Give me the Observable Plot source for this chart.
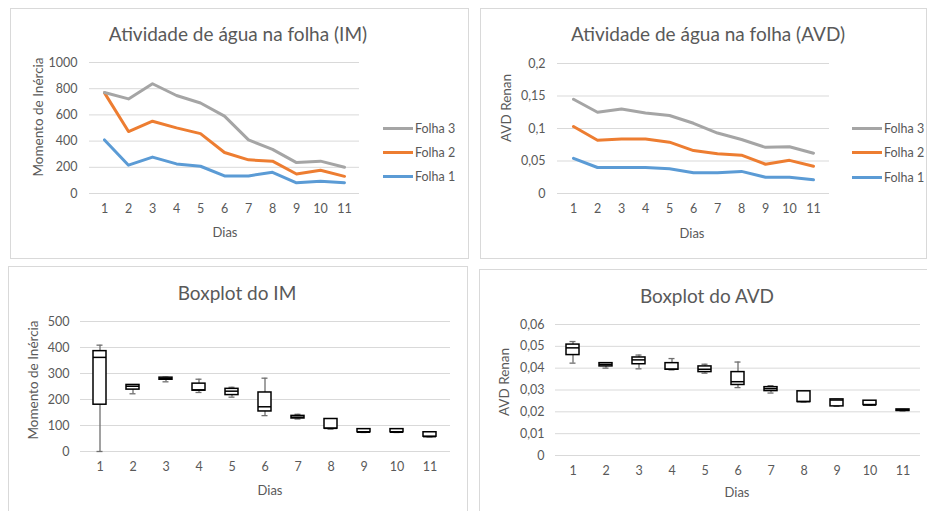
<!DOCTYPE html>
<html>
<head>
<meta charset="utf-8">
<script src="https://cdn.jsdelivr.net/npm/d3@7"></script>
<script src="https://cdn.jsdelivr.net/npm/@observablehq/plot@0.6"></script>
<style>
  html, body { margin: 0; padding: 0; background: #fff; }
  body { width: 927px; height: 511px; position: relative; overflow: hidden; font-family: Lato, "Open Sans", sans-serif; color: #595959; }
  .panel { position: absolute; border: 1px solid #d9d9d9; box-sizing: border-box; background: #fff; }
  .abs { position: absolute; white-space: nowrap; }
  .title { font-size: 19px; color: #595959; transform: translate(-50%, -50%); }
  .xlab { font-size: 13px; transform: translate(-50%, -50%); }
  .ylab { font-size: 13.5px; transform: translate(-50%, -50%) rotate(-90deg); }
  .leg { font-size: 12.5px; display: flex; align-items: center; transform: translateY(-50%); }
  .leg svg { margin-right: 2px; }
  .plot { position: absolute; }
</style>
</head>
<body>
<div class="panel" style="left:10px;top:8px;width:459px;height:251px"></div>
<div class="panel" style="left:480px;top:8px;width:447px;height:251px"></div>
<div class="panel" style="left:8px;top:266px;width:460px;height:250px"></div>
<div class="panel" style="left:479px;top:269px;width:450px;height:250px"></div>

<div class="abs title" style="left:238px;top:33px">Atividade de água na folha (IM)</div>
<div class="abs title" style="left:708px;top:33px">Atividade de água na folha (AVD)</div>
<div class="abs title" style="left:237px;top:292px">Boxplot do IM</div>
<div class="abs title" style="left:707px;top:295px">Boxplot do AVD</div>

<div class="abs xlab" style="left:225px;top:232px">Dias</div>
<div class="abs xlab" style="left:692px;top:233px">Dias</div>
<div class="abs xlab" style="left:270px;top:490px">Dias</div>
<div class="abs xlab" style="left:737px;top:492px">Dias</div>

<div class="abs ylab" style="left:38px;top:117px">Momento de Inércia</div>
<div class="abs ylab" style="left:506px;top:108px">AVD Renan</div>
<div class="abs ylab" style="left:33px;top:380px">Momento de Inércia</div>
<div class="abs ylab" style="left:504px;top:382px">AVD Renan</div>

<div id="p1" class="plot" style="left:10px;top:50px"></div>
<div id="p2" class="plot" style="left:480px;top:50px"></div>
<div id="p3" class="plot" style="left:8px;top:310px"></div>
<div id="p4" class="plot" style="left:479px;top:312px"></div>

<script>
// ---------- data ----------
const dias = [1, 2, 3, 4, 5, 6, 7, 8, 9, 10, 11];
const series = ["Folha 1", "Folha 2", "Folha 3"];
const seriesColors = ["#5B9BD5", "#ED7D31", "#A5A5A5"];

// Line chart values as drawn (stacked lines)
const imFolha1 = [409, 216, 278, 226, 208, 134, 134, 162, 82, 93, 82];
const imFolha2 = [768, 473, 552, 501, 457, 313, 257, 247, 149, 177, 131];
const imFolha3 = [771, 722, 838, 748, 691, 591, 409, 337, 236, 247, 200];

const avdFolha1 = [0.054, 0.040, 0.040, 0.040, 0.038, 0.032, 0.032, 0.034, 0.025, 0.025, 0.021];
const avdFolha2 = [0.103, 0.082, 0.084, 0.084, 0.079, 0.066, 0.061, 0.059, 0.045, 0.051, 0.042];
const avdFolha3 = [0.145, 0.125, 0.130, 0.124, 0.120, 0.108, 0.093, 0.083, 0.071, 0.072, 0.062];

// Boxplot IM
const imMin = [0, 222, 268, 227, 209, 138, 125, 86, 73, 73, 56];
const imQ1  = [180, 238, 276, 234, 217, 154, 127, 88, 74, 74, 57];
const imMed = [362, 251, 281, 237, 232, 172, 132, 89, 74, 74, 57];
const imQ3  = [386, 256, 284, 261, 241, 227, 137, 125, 86, 86, 74];
const imMax = [409, 257, 286, 278, 247, 282, 143, 125, 87, 87, 75];

// Boxplot AVD
const avdMin = [0.0423, 0.0400, 0.0397, 0.0392, 0.0377, 0.0311, 0.0286, 0.0245, 0.0225, 0.0231, 0.0204];
const avdQ1  = [0.0460, 0.0408, 0.0418, 0.0393, 0.0382, 0.0323, 0.0295, 0.0245, 0.0225, 0.0231, 0.0204];
const avdMed = [0.0493, 0.0417, 0.0438, 0.0395, 0.0395, 0.0338, 0.0306, 0.0247, 0.0254, 0.0231, 0.0207];
const avdQ3  = [0.0508, 0.0423, 0.0449, 0.0423, 0.0408, 0.0382, 0.0313, 0.0294, 0.0257, 0.0251, 0.0211];
const avdMax = [0.0522, 0.0425, 0.0460, 0.0444, 0.0418, 0.0428, 0.0320, 0.0294, 0.0257, 0.0251, 0.0211];

// Tick labels
const imTicks = [0, 200, 400, 600, 800, 1000];
const avdTicks = [0, 0.05, 0.1, 0.15, 0.2];
const imBoxTicks = [0, 100, 200, 300, 400, 500];
const avdBoxTicks = [0, 0.01, 0.02, 0.03, 0.04, 0.05, 0.06];

// ---------- helpers ----------
const fmt = d => String(d).replace(".", ",");
const style = {fontFamily: "Lato, 'Open Sans', sans-serif", fontSize: "12.5px", color: "#595959", background: "transparent", overflow: "visible"};

function longData(a, b, c) {
  const out = [];
  [a, b, c].forEach((arr, k) => arr.forEach((v, i) => out.push({dia: dias[i], valor: v, serie: series[k]})));
  return out;
}
function boxData(mn, q1, md, q3, mx) {
  return dias.map((d, i) => ({dia: d, min: mn[i], q1: q1[i], med: md[i], q3: q3[i], max: mx[i]}));
}

function linePlot(data, ticks, domain, dims) {
  return Plot.plot({
    ...dims,
    style,
    x: {type: "point", domain: dias, padding: 0.5},
    y: {domain},
    color: {domain: series, range: seriesColors},
    marks: [
      Plot.gridY(ticks, {stroke: "#d9d9d9", strokeOpacity: 1, strokeWidth: 1}),
      Plot.axisY({ticks, tickSize: 0, tickPadding: 12, tickFormat: fmt, label: null}),
      Plot.axisX({tickSize: 0, tickPadding: 11, label: null}),
      Plot.line(data, {x: "dia", y: "valor", z: "serie", stroke: "serie", strokeWidth: 3, strokeLinejoin: "round"})
    ]
  });
}

function boxPlot(data, ticks, domain, dims) {
  return Plot.plot({
    ...dims,
    style,
    x: {type: "band", domain: dias, paddingInner: 0.6, paddingOuter: 0.3},
    y: {domain},
    marks: [
      Plot.gridY(ticks, {stroke: "#d9d9d9", strokeOpacity: 1, strokeWidth: 1}),
      Plot.axisY({ticks, tickSize: 0, tickPadding: 11, tickFormat: fmt, label: null}),
      Plot.axisX({tickSize: 0, tickPadding: 11, label: null}),
      Plot.ruleX(data, {x: "dia", y1: "min", y2: "max", stroke: "#6f6f6f", strokeWidth: 1.3}),
      Plot.tickY(data, {x: "dia", y: "min", stroke: "#6f6f6f", strokeWidth: 1.3, insetLeft: 3.5, insetRight: 3.5}),
      Plot.tickY(data, {x: "dia", y: "max", stroke: "#6f6f6f", strokeWidth: 1.3, insetLeft: 3.5, insetRight: 3.5}),
      Plot.barY(data, {x: "dia", y1: "q1", y2: "q3", fill: "white", stroke: "black", strokeWidth: 1.5}),
      Plot.tickY(data, {x: "dia", y: "med", stroke: "black", strokeWidth: 1.5})
    ]
  });
}

document.getElementById("p1").append(linePlot(longData(imFolha1, imFolha2, imFolha3), imTicks, [0, 1000],
  {width: 360, height: 200, marginLeft: 79, marginRight: 11, marginTop: 12, marginBottom: 57}));
document.getElementById("p2").append(linePlot(longData(avdFolha1, avdFolha2, avdFolha3), avdTicks, [0, 0.2],
  {width: 360, height: 200, marginLeft: 77, marginRight: 11, marginTop: 13, marginBottom: 57}));
document.getElementById("p3").append(boxPlot(boxData(imMin, imQ1, imMed, imQ3, imMax), imBoxTicks, [0, 500],
  {width: 450, height: 170, marginLeft: 72, marginRight: 8, marginTop: 11, marginBottom: 29}));
document.getElementById("p4").append(boxPlot(boxData(avdMin, avdQ1, avdMed, avdQ3, avdMax), avdBoxTicks, [0, 0.06],
  {width: 447, height: 170, marginLeft: 76, marginRight: 6, marginTop: 12, marginBottom: 27}));

// legends (Folha 3 on top)
function legend(left, tops) {
  const frag = document.createDocumentFragment();
  [2, 1, 0].forEach((k, j) => {
    const d = document.createElement("div");
    d.className = "abs leg";
    d.style.left = left + "px";
    d.style.top = tops[j] + "px";
    d.innerHTML = `<svg width="30" height="6"><line x1="0" x2="30" y1="3" y2="3" stroke="${seriesColors[k]}" stroke-width="3"/></svg><span>${series[k]}</span>`;
    frag.append(d);
  });
  document.body.append(frag);
}
legend(383, [128, 152, 176]);
legend(852, [128, 152, 177]);
</script>
</body>
</html>
